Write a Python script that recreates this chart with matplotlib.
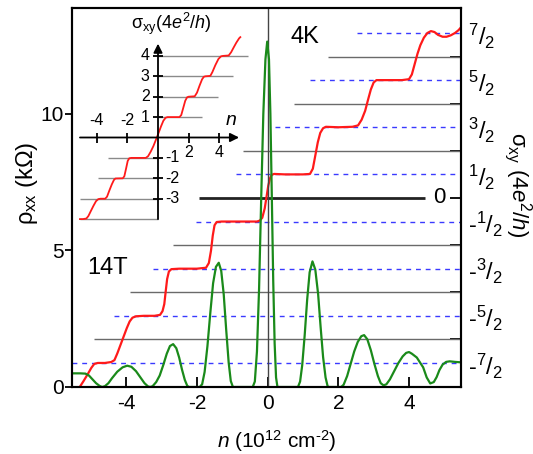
import matplotlib
matplotlib.use('Agg')
import matplotlib.pyplot as plt

plt.rcParams['font.family'] = ['Liberation Sans', 'DejaVu Sans']
plt.rcParams['mathtext.fontset'] = 'custom'
plt.rcParams['mathtext.rm'] = 'Liberation Sans'
plt.rcParams['mathtext.it'] = 'Liberation Sans:italic'
plt.rcParams['mathtext.bf'] = 'Liberation Sans:bold'
plt.rcParams['mathtext.sf'] = 'Liberation Sans'

# ---------------- data ----------------
# rho_xx (kOhm) vs n (1e12 cm^-2), green curve
rho_n = [-5.50, -5.30, -5.15, -5.05, -4.95, -4.85, -4.75, -4.68, -4.60, -4.50,
         -4.40, -4.25, -4.10, -3.97, -3.85, -3.72, -3.60, -3.48, -3.38, -3.32,
         -3.25, -3.15, -3.05, -2.95, -2.85, -2.76, -2.67, -2.58, -2.50, -2.42,
         -2.34, -2.27, -2.22, -1.92, -1.85, -1.78, -1.70, -1.62, -1.54, -1.46,
         -1.38, -1.31, -1.24, -1.17, -1.10, -1.04, -0.98, -0.42, -0.36, -0.30,
         -0.24, -0.18, -0.12, -0.06, -0.01, 0.04, 0.08, 0.12, 0.16, 0.20,
         0.24, 0.28, 0.86, 0.92, 0.98, 1.05, 1.12, 1.19, 1.27, 1.35,
         1.43, 1.50, 1.57, 1.64, 1.70, 1.74, 2.08, 2.15, 2.25, 2.35,
         2.45, 2.55, 2.65, 2.73, 2.82, 2.92, 3.02, 3.12, 3.20, 3.28,
         3.36, 3.46, 3.58, 3.70, 3.82, 3.92, 4.00, 4.08, 4.22, 4.40,
         4.50, 4.60, 4.70, 4.78, 4.86, 4.95, 5.05, 5.15, 5.30, 5.50]
rho_val = [0.50, 0.50, 0.49, 0.42, 0.28, 0.14, 0.04, 0.00, 0.03, 0.14,
           0.32, 0.56, 0.72, 0.78, 0.74, 0.58, 0.36, 0.14, 0.02, 0.00,
           0.03, 0.18, 0.42, 0.80, 1.22, 1.50, 1.57, 1.42, 1.08, 0.64,
           0.26, 0.04, 0.00, 0.00, 0.10, 0.55, 1.50, 2.70, 3.80, 4.40,
           4.55, 4.25, 3.40, 2.10, 0.90, 0.22, 0.00, 0.00, 0.20, 1.30,
           3.60, 6.90, 10.00, 12.00, 12.65, 12.00, 10.00, 7.00, 3.90, 1.60,
           0.35, 0.00, 0.00, 0.20, 0.80, 1.90, 3.20, 4.20, 4.60, 4.30,
           3.40, 2.20, 1.10, 0.35, 0.02, 0.00, 0.00, 0.08, 0.40, 0.85,
           1.30, 1.65, 1.86, 1.90, 1.75, 1.35, 0.85, 0.40, 0.14, 0.06,
           0.10, 0.28, 0.58, 0.88, 1.12, 1.25, 1.28, 1.22, 1.08, 0.72,
           0.35, 0.13, 0.18, 0.36, 0.62, 0.82, 0.92, 0.94, 0.92, 0.90]

# sigma_xy (4e^2/h) vs n, red curve (main panel)
sig_n = [-5.32, -5.20, -5.08, -4.98, -4.90, -4.80, -4.60, -4.42, -4.33, -4.25,
         -4.16, -4.07, -3.98, -3.90, -3.82, -3.72, -3.50, -3.20, -3.04, -2.97,
         -2.92, -2.88, -2.84, -2.79, -2.72, -2.50, -2.00, -1.74, -1.66, -1.60,
         -1.55, -1.50, -1.44, -1.30, -0.80, -0.30, -0.22, -0.15, -0.08, -0.03,
         0.02, 0.07, 0.12, 0.18, 0.50, 1.00, 1.20, 1.28, 1.35, 1.42,
         1.49, 1.57, 1.65, 2.00, 2.40, 2.56, 2.66, 2.76, 2.84, 2.92,
         3.00, 3.08, 3.40, 3.80, 4.00, 4.08, 4.16, 4.24, 4.32, 4.42,
         4.52, 4.62, 4.72, 4.82, 4.95, 5.06, 5.18, 5.30, 5.40, 5.47]
sig_val = [-4.02, -3.88, -3.73, -3.60, -3.52, -3.50, -3.50, -3.48, -3.44, -3.30,
           -3.12, -2.94, -2.76, -2.62, -2.54, -2.51, -2.50, -2.50, -2.48, -2.40,
           -2.25, -1.98, -1.72, -1.56, -1.51, -1.50, -1.50, -1.48, -1.38, -1.12,
           -0.80, -0.58, -0.51, -0.50, -0.50, -0.50, -0.48, -0.42, -0.22, 0.02,
           0.26, 0.42, 0.49, 0.51, 0.50, 0.50, 0.51, 0.62, 0.90, 1.18,
           1.38, 1.48, 1.51, 1.50, 1.51, 1.54, 1.66, 1.85, 2.08, 2.30,
           2.45, 2.50, 2.50, 2.50, 2.52, 2.62, 2.84, 3.06, 3.24, 3.40,
           3.50, 3.54, 3.52, 3.46, 3.42, 3.42, 3.45, 3.50, 3.56, 3.62]

# inset: sigma_xy with integer plateaus
ins_n = [-5.10, -4.90, -4.68, -4.55, -4.40, -4.22, -4.05, -3.90, -3.75, -3.45,
         -3.33, -3.18, -3.02, -2.88, -2.78, -2.30, -2.20, -2.08, -1.98, -1.88,
         -1.75, -0.80, -0.65, -0.48, -0.30, -0.12, 0.05, 0.20, 0.35, 0.50,
         0.62, 1.40, 1.52, 1.65, 1.78, 1.90, 2.00, 2.40, 2.55, 2.72,
         2.88, 3.00, 3.10, 3.42, 3.55, 3.75, 3.95, 4.12, 4.25, 4.62,
         4.78, 4.95, 5.12, 5.30, 5.38]
ins_val = [-4.00, -4.00, -3.97, -3.85, -3.62, -3.35, -3.12, -3.02, -3.00, -3.00,
           -2.90, -2.60, -2.30, -2.08, -2.01, -2.00, -1.90, -1.50, -1.15, -1.02,
           -1.00, -1.00, -0.92, -0.70, -0.42, -0.08, 0.25, 0.55, 0.82, 0.97,
           1.00, 1.00, 1.10, 1.45, 1.80, 1.97, 2.00, 2.02, 2.20, 2.55,
           2.85, 2.98, 3.00, 3.02, 3.20, 3.55, 3.85, 3.98, 4.00, 4.02,
           4.18, 4.42, 4.65, 4.86, 4.92]

x_ticks = [-4, -2, 0, 2, 4]
rho_ticks = [0, 5, 10]
sig_int_ticks = [-3, -2, -1, 0, 1, 2, 3]
half_levels = [-3.5, -2.5, -1.5, -0.5, 0.5, 1.5, 2.5, 3.5]
half_labels = ['-$^{7}/_{2}$', '-$^{5}/_{2}$', '-$^{3}/_{2}$', '-$^{1}/_{2}$',
               '$^{1}/_{2}$', '$^{3}/_{2}$', '$^{5}/_{2}$', '$^{7}/_{2}$']
# reference lines in the main panel (sigma level, n where line starts)
int_levels = [-3, -2, -1, 1, 2, 3]
int_start = [-4.90, -3.90, -2.68, -0.70, 0.75, 1.70]
half_start = [-5.53, -4.33, -3.25, -2.03, -0.90, 0.22, 1.20, 2.53]
zero_span = [-1.94, 4.45]
# inset reference lines
ins_pos_levels = [1, 2, 3, 4]
ins_pos_end = [2.9, 3.9, 4.9, 5.9]
ins_neg_levels = [-1, -2, -3, -4]
ins_neg_start = [-3.3, -3.9, -5.1, -5.1]
ins_xticks = [-4, -2, 2, 4]
ins_yticks = [-3, -2, -1, 1, 2, 3, 4]

# ---------------- figure ----------------
W, H = 533, 454
fig = plt.figure(figsize=(W / 100, H / 100), dpi=100)
L, R, T, B = 72, 461, 8, 387
ax = fig.add_axes([L / W, 1 - B / H, (R - L) / W, (B - T) / H])
ax2 = ax.twinx()
ax.set_zorder(ax2.get_zorder() + 1)
ax.patch.set_visible(False)

XMIN, XMAX = -5.53, 5.47
ax.set_xlim(XMIN, XMAX)
ax.set_ylim(0, 13.88)
ax2.set_ylim(-4.01, 4.03)

# lines on sigma axis
ax2.hlines(int_levels, int_start, XMAX, colors='#6a6a6a', lw=1.0)
ax2.hlines(half_levels, half_start, XMAX, colors='#3a3aff', lw=1.0,
           linestyles=(0, (3.5, 3.5)))
ax2.hlines([0], zero_span[0], zero_span[1], colors='#222222', lw=2.0)
ax2.text(4.87, 0, '0', fontsize=16, ha='center', va='center')
ax2.plot(sig_n, sig_val, color='#ff1a1a', lw=1.6)
ax.axvline(0, color='#444444', lw=1.0)
ax.plot(rho_n, rho_val, color='#1a8a1a', lw=1.6)

for sp in ax.spines.values():
    sp.set_linewidth(1.5)
for sp in ax2.spines.values():
    sp.set_linewidth(1.5)

ax.set_xticks(x_ticks)
ax.set_yticks(rho_ticks)
ax.tick_params(axis='x', direction='in', length=7, width=1.3, labelsize=15, pad=5)
ax.tick_params(axis='y', direction='out', length=5, width=1.3, labelsize=15, pad=1)
ax.set_xticklabels([str(v) for v in x_ticks])

ax2.set_yticks(sig_int_ticks)
ax2.set_yticklabels([])
ax2.set_yticks(half_levels, minor=True)
ax2.set_yticklabels(half_labels, minor=True)
ax2.tick_params(axis='y', which='major', direction='in', length=8, width=1.3)
ax2.tick_params(axis='y', which='minor', length=0, labelsize=17, pad=5)

ax.set_xlabel('$n$ (10$^{12}$ cm$^{\\text{-}2}$)', fontsize=15, va='center')
ax.xaxis.set_label_coords((277 - L) / (R - L), (B - 441) / (B - T))
ax.set_ylabel('ρ$_{\\rm xx}$ (kΩ)', fontsize=17, va='center')
ax.yaxis.set_label_coords((27 - L) / (R - L), (B - 183) / (B - T))
ax2.set_ylabel('σ$_{\\rm xy}$ (4$e^{2}$/$h$)', fontsize=16, rotation=270, va='center')
ax2.yaxis.set_label_coords((518 - L) / (R - L), (B - 185) / (B - T))

ax.text(1.06, 12.8, '4K', fontsize=17, ha='center', va='center')
ax.text(-4.52, 4.36, '14T', fontsize=17, ha='center', va='center')

# ---------------- inset ----------------
ix0, ix1, iy0, iy1 = 75, 255, 10, 228
ox, oy, sx, sy = 158, 137.5, 15.3, 20.4
axi = fig.add_axes([ix0 / W, 1 - iy1 / H, (ix1 - ix0) / W, (iy1 - iy0) / H])
axi.set_xlim((ix0 - ox) / sx, (ix1 - ox) / sx)
axi.set_ylim((oy - iy1) / sy, (oy - iy0) / sy)
axi.axis('off')
axi.patch.set_visible(False)

axi.hlines(ins_pos_levels, 0, ins_pos_end, colors='#8a8a8a', lw=1.0)
axi.hlines(ins_neg_levels, ins_neg_start, 0, colors='#8a8a8a', lw=1.0)
axi.annotate('', xy=(5.3, 0), xytext=(-5.1, 0),
             arrowprops=dict(arrowstyle='-|>', color='black', lw=1.3,
                             mutation_scale=13, shrinkA=0, shrinkB=0))
axi.annotate('', xy=(0, 4.6), xytext=(0, -4.0),
             arrowprops=dict(arrowstyle='-|>', color='black', lw=1.3,
                             mutation_scale=13, shrinkA=0, shrinkB=0))
axi.plot(ins_xticks, [0] * len(ins_xticks), ls='none', marker='|', ms=7,
         mew=1.3, color='black')
axi.plot([0] * len(ins_yticks), ins_yticks, ls='none', marker='_', ms=7,
         mew=1.3, color='black')
axi.plot(ins_n, ins_val, color='#ff1a1a', lw=1.3)

for v in ins_xticks:
    if v < 0:
        axi.text(v, 0.45, str(v), fontsize=11.5, ha='center', va='bottom')
    else:
        axi.text(v, -0.35, str(v), fontsize=11.5, ha='center', va='top')
for v in ins_yticks:
    if v > 0:
        axi.text(-0.55, v, str(v), fontsize=11.5, ha='right', va='center')
    else:
        axi.text(0.45, v, str(v), fontsize=11.5, ha='left', va='center')
axi.text(4.75, 0.85, '$n$', fontsize=14, ha='center', va='center')
axi.text(0.9, 5.55, 'σ$_{\\rm xy}$(4$e^{2}$/$h$)', fontsize=13, ha='center', va='center')

fig.savefig('out.png', dpi=100)
